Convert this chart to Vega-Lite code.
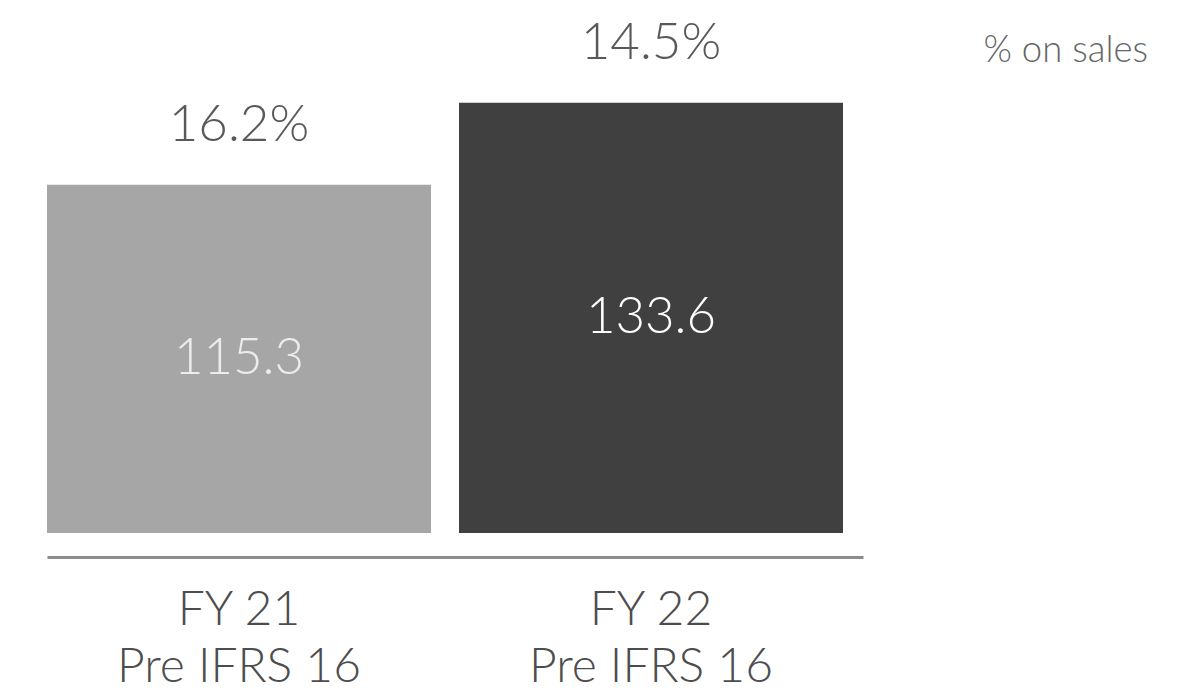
{
  "$schema": "https://vega.github.io/schema/vega-lite/v6.json",
  "width": 1115,
  "height": 453,
  "autosize": {"type": "none"},
  "padding": {"left": 33, "top": 80, "right": 32, "bottom": 162},
  "background": "#ffffff",
  "config": {"view": {"stroke": null}, "font": "Lato"},
  "title": {
    "text": "% on sales",
    "anchor": "end",
    "orient": "top",
    "fontSize": 36.5,
    "fontWeight": 300,
    "color": "#666666",
    "baseline": "alphabetic",
    "offset": -81
  },
  "data": {
    "values": [
      {"period": "FY 21|Pre IFRS 16", "value": 115.3, "pct": "16.2%", "label": "115.3"},
      {"period": "FY 22|Pre IFRS 16", "value": 133.6, "pct": "14.5%", "label": "133.6"}
    ]
  },
  "encoding": {
    "x": {
      "field": "period",
      "type": "nominal",
      "sort": null,
      "scale": {"range": [14, 830], "paddingInner": 0.068, "paddingOuter": 0.0243, "align": 0},
      "axis": {
        "title": null,
        "labelExpr": "split(datum.label, '|')",
        "labelAngle": 0,
        "labelFontSize": 48,
        "labelFontWeight": 300,
        "labelLineHeight": 57,
        "labelLimit": 500,
        "labelColor": "#4d4d4d",
        "labelPadding": 29,
        "ticks": false,
        "domain": true,
        "domainColor": "#8c8c8c",
        "domainWidth": 3,
        "offset": 24,
        "grid": false
      }
    }
  },
  "layer": [
    {
      "mark": {"type": "bar"},
      "encoding": {
        "y": {
          "field": "value",
          "type": "quantitative",
          "scale": {"domain": [37.6, 138.7], "zero": false, "nice": false},
          "axis": null
        },
        "y2": {"datum": 37.6},
        "color": {
          "field": "period",
          "type": "nominal",
          "scale": {"range": ["#a6a6a6", "#404040"]},
          "legend": null
        }
      }
    },
    {
      "mark": {"type": "text", "fontSize": 51, "fontWeight": 300, "color": "#595959", "baseline": "alphabetic", "dy": -44},
      "encoding": {
        "y": {"field": "value", "type": "quantitative"},
        "text": {"field": "pct"}
      }
    },
    {
      "transform": [{"calculate": "(datum.value + 37.6) / 2", "as": "mid"}],
      "mark": {"type": "text", "fontSize": 51, "fontWeight": 300, "baseline": "middle"},
      "encoding": {
        "y": {"field": "mid", "type": "quantitative"},
        "text": {"field": "label"},
        "color": {
          "field": "period",
          "type": "nominal",
          "scale": {"range": ["#ececec", "#ffffff"]},
          "legend": null
        }
      }
    }
  ],
  "resolve": {"scale": {"color": "independent"}}
}
